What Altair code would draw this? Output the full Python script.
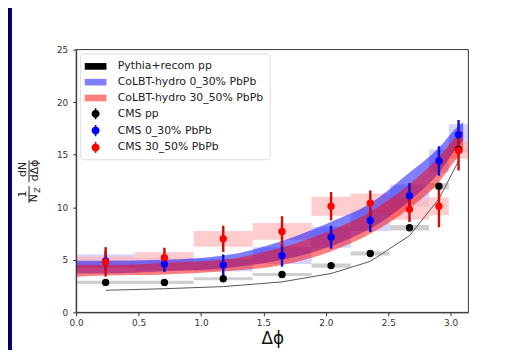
import math
import altair as alt
import pandas as pd

# ---- data ----
x_c = [0.236, 0.707, 1.178, 1.649, 2.042, 2.356, 2.670, 2.906, 3.063]
bin_lo = [0.0, 0.471, 0.942, 1.414, 1.885, 2.199, 2.513, 2.827, 2.985]
bin_hi = [0.471, 0.942, 1.414, 1.885, 2.199, 2.513, 2.827, 2.985, 3.1416]

pp_y = [2.85, 2.85, 3.2, 3.6, 4.45, 5.6, 8.05, 12.0, 15.5]
pp_sys = [0.15, 0.15, 0.15, 0.15, 0.2, 0.2, 0.25, 0.3, 0.3]

c0_y = [4.9, 4.6, 4.5, 5.4, 7.15, 8.75, 11.1, 14.4, 16.9]
c0_err = [0.9, 0.75, 1.0, 1.05, 1.1, 1.1, 1.2, 1.4, 1.4]
c0_sys = [0.6, 0.6, 0.6, 0.8, 1.0, 1.0, 1.05, 1.1, 1.0]

c30_y = [4.8, 5.2, 7.0, 7.7, 10.1, 10.4, 9.8, 10.1, 15.4]
c30_err = [1.4, 0.95, 1.25, 1.45, 1.35, 1.2, 1.2, 2.0, 1.9]
c30_sys = [0.55, 0.55, 0.75, 0.8, 0.9, 0.9, 1.0, 0.85, 0.8]

pythia_y = [2.1, 2.25, 2.45, 2.9, 3.7, 4.85, 7.3, 10.8, 14.4]

band_x = [0.0, 0.24, 0.71, 1.18, 1.65, 2.04, 2.36, 2.67, 2.90, 3.06, 3.10]
blue_lo = [3.7, 3.7, 3.9, 4.2, 5.0, 6.3, 8.0, 10.6, 13.2, 15.8, 16.3]
blue_hi = [4.9, 4.9, 5.0, 5.4, 6.8, 8.6, 10.4, 13.3, 15.6, 17.7, 18.1]
red_lo = [3.4, 3.5, 3.6, 3.9, 4.5, 5.8, 7.5, 9.9, 12.3, 14.8, 15.3]
red_hi = [4.5, 4.5, 4.7, 5.0, 6.2, 7.8, 9.6, 12.2, 14.7, 16.9, 17.3]

labels = ["Pythia+recom pp", "CoLBT-hydro 0_30% PbPb", "CoLBT-hydro 30_50% PbPb",
          "CMS pp", "CMS 0_30% PbPb", "CMS 30_50% PbPb"]
leg_colors = ["#000000", "#7f7fff", "#ff7f7f", "#000000", "#0000ff", "#ff0000"]
patch = "M-1.19,-0.48H1.95V0.48H-1.19Z"
pt = ("M-0.2,0A0.58,0.58 0 1,1 0.96,0A0.58,0.58 0 1,1 -0.2,0Z "
      "M0.27,-0.8H0.49V0.8H0.27Z")
leg_shapes = [patch, patch, patch, pt, pt, pt]

x_ticks = [0.0, 0.5, 1.0, 1.5, 2.0, 2.5, 3.0]
y_ticks = [0, 5, 10, 15, 20, 25]

# ---- layout ----
W, H = 397, 266
PL, PT, PR, PB = 69, 40, 30, 36
FONT = "DejaVu Sans"

xs = alt.Scale(domain=[0, math.pi], nice=False, zero=False)
ys = alt.Scale(domain=[0, 25], nice=False)
xaxis = alt.Axis(values=x_ticks, format=".1f", title="Δϕ", grid=False, zindex=1,
                 labelFlush=False, labelOverlap=False,
                 labelFontSize=9, labelColor="#333", tickColor="#333",
                 domainColor="#333", tickSize=3.5, labelPadding=3,
                 titleFontSize=17, titleFontWeight="normal", titleColor="#111",
                 titlePadding=3, labelFont=FONT, titleFont=FONT)
yaxis = alt.Axis(values=y_ticks, title=None, grid=False, zindex=1,
                 labelFlush=False, labelOverlap=False,
                 labelFontSize=9, labelColor="#333", tickColor="#333",
                 domainColor="#333", tickSize=3.5, labelPadding=5, labelFont=FONT)

def frame(ys_, err_):
    return pd.DataFrame({"x": x_c, "xl": bin_lo, "xh": bin_hi,
                         "y": ys_, "lo": [a - b for a, b in zip(ys_, err_)],
                         "hi": [a + b for a, b in zip(ys_, err_)]})

pp = frame(pp_y, pp_sys)
c0s = frame(c0_y, c0_sys)
c30s = frame(c30_y, c30_sys)
c0e = frame(c0_y, c0_err)
c30e = frame(c30_y, c30_err)
pyth = pd.DataFrame({"x": x_c, "y": pythia_y})
bands = pd.DataFrame({"x": band_x, "blo": blue_lo, "bhi": blue_hi,
                      "rlo": red_lo, "rhi": red_hi})

one = pd.DataFrame({"a": [0]})
bg = alt.Chart(one).mark_rect(color="white").encode(
    x=alt.value(12 - 8 - PL), x2=alt.value(W + PR + 60),
    y=alt.value(-PT - 60), y2=alt.value(H + PB + 60))
box = alt.Chart(one).mark_rect(filled=False, stroke="#333", strokeWidth=1).encode(
    x=alt.value(0), x2=alt.value(W), y=alt.value(0), y2=alt.value(H))

def boxes(df, color, op=1.0):
    return alt.Chart(df).mark_rect(color=color, opacity=op).encode(
        x=alt.X("xl:Q", scale=xs, axis=xaxis), x2="xh:Q",
        y=alt.Y("lo:Q", scale=ys, axis=yaxis), y2="hi:Q")

gray_boxes = boxes(pp, "#cfcfcf")
blue_boxes = boxes(c0s, "#ccccff", 0.85)
red_boxes = boxes(c30s, "#ffb8b8", 0.7)

blue_band = alt.Chart(bands).mark_area(color="#0000ff", opacity=0.5,
                                       interpolate="monotone").encode(
    x=alt.X("x:Q", scale=xs), y=alt.Y("blo:Q", scale=ys), y2="bhi:Q")
red_band = alt.Chart(bands).mark_area(color="#ff0000", opacity=0.5,
                                      interpolate="monotone").encode(
    x=alt.X("x:Q", scale=xs), y=alt.Y("rlo:Q", scale=ys), y2="rhi:Q")

pyth_line = alt.Chart(pyth).mark_line(color="#555", strokeWidth=1).encode(
    x=alt.X("x:Q", scale=xs), y=alt.Y("y:Q", scale=ys))

def ebars(df, color):
    return alt.Chart(df).mark_rule(color=color, strokeWidth=2.5).encode(
        x=alt.X("x:Q", scale=xs), y=alt.Y("lo:Q", scale=ys), y2="hi:Q")

def pts(df, color):
    return alt.Chart(df).mark_circle(color=color, size=55, opacity=1).encode(
        x=alt.X("x:Q", scale=xs), y=alt.Y("y:Q", scale=ys))

leg = alt.Legend(title=None, orient="top-left", offset=4, padding=6,
                 labelFontSize=11, labelFont=FONT, labelColor="#222",
                 symbolSize=196, symbolOpacity=1, symbolStrokeWidth=0,
                 labelOffset=18, rowPadding=4.0, strokeColor="#dddddd",
                 fillColor="white", cornerRadius=3, labelLimit=300)
leg_df = pd.DataFrame({"label": labels})
legend_layer = alt.Chart(leg_df).mark_point(filled=True).encode(
    x=alt.value(0), y=alt.value(0), opacity=alt.value(0),
    color=alt.Color("label:N", scale=alt.Scale(domain=labels, range=leg_colors),
                    legend=leg, sort=labels),
    shape=alt.Shape("label:N", scale=alt.Scale(domain=labels, range=leg_shapes),
                    legend=leg, sort=labels))

# y-axis title as a fraction: 1/N_Z  dN/dΔϕ (rotated)
def ytext(s, xr, yr, size=11):
    return alt.Chart(one).mark_text(text=s, angle=270, fontSize=size, font=FONT,
                                    color="#222", align="center",
                                    baseline="middle").encode(
        x=alt.value(xr), y=alt.value(yr))

def fline(xr, y1, y2):
    return alt.Chart(one).mark_rule(color="#222", strokeWidth=1).encode(
        x=alt.value(xr), y=alt.value(y1), y2=alt.value(y2))

ytitle = [
    ytext("1", 23 - 76.7, 194 - 47.7),
    ytext("dN", 23 - 76.7, 169 - 47.7),
    fline(29 - 76.7, 186 - 47.7, 203 - 47.7),
    fline(29 - 76.7, 160 - 47.7, 182 - 47.7),
    ytext("N", 34 - 76.7, 198 - 47.7),
    ytext("Z", 38.5 - 76.7, 190 - 47.7, 8),
    ytext("dΔϕ", 35 - 76.7, 170 - 47.7),
]

chart = alt.layer(
    bg, gray_boxes, blue_boxes, red_boxes, blue_band, red_band, pyth_line,
    ebars(c0e, "#1010cc"), ebars(c30e, "#cc1010"),
    pts(pp, "#000000"), pts(c0e, "#0000ff"), pts(c30e, "#ff0000"),
    box, legend_layer, *ytitle
).properties(
    width=W, height=H,
    autosize=alt.AutoSizeParams(type="none"),
    padding={"left": PL, "top": PT, "right": PR, "bottom": PB},
    background="#000066",
).configure_view(strokeWidth=0).resolve_legend(
    color="shared", shape="shared")

chart.save("out.html", embed_options={"renderer": "svg", "actions": False})
